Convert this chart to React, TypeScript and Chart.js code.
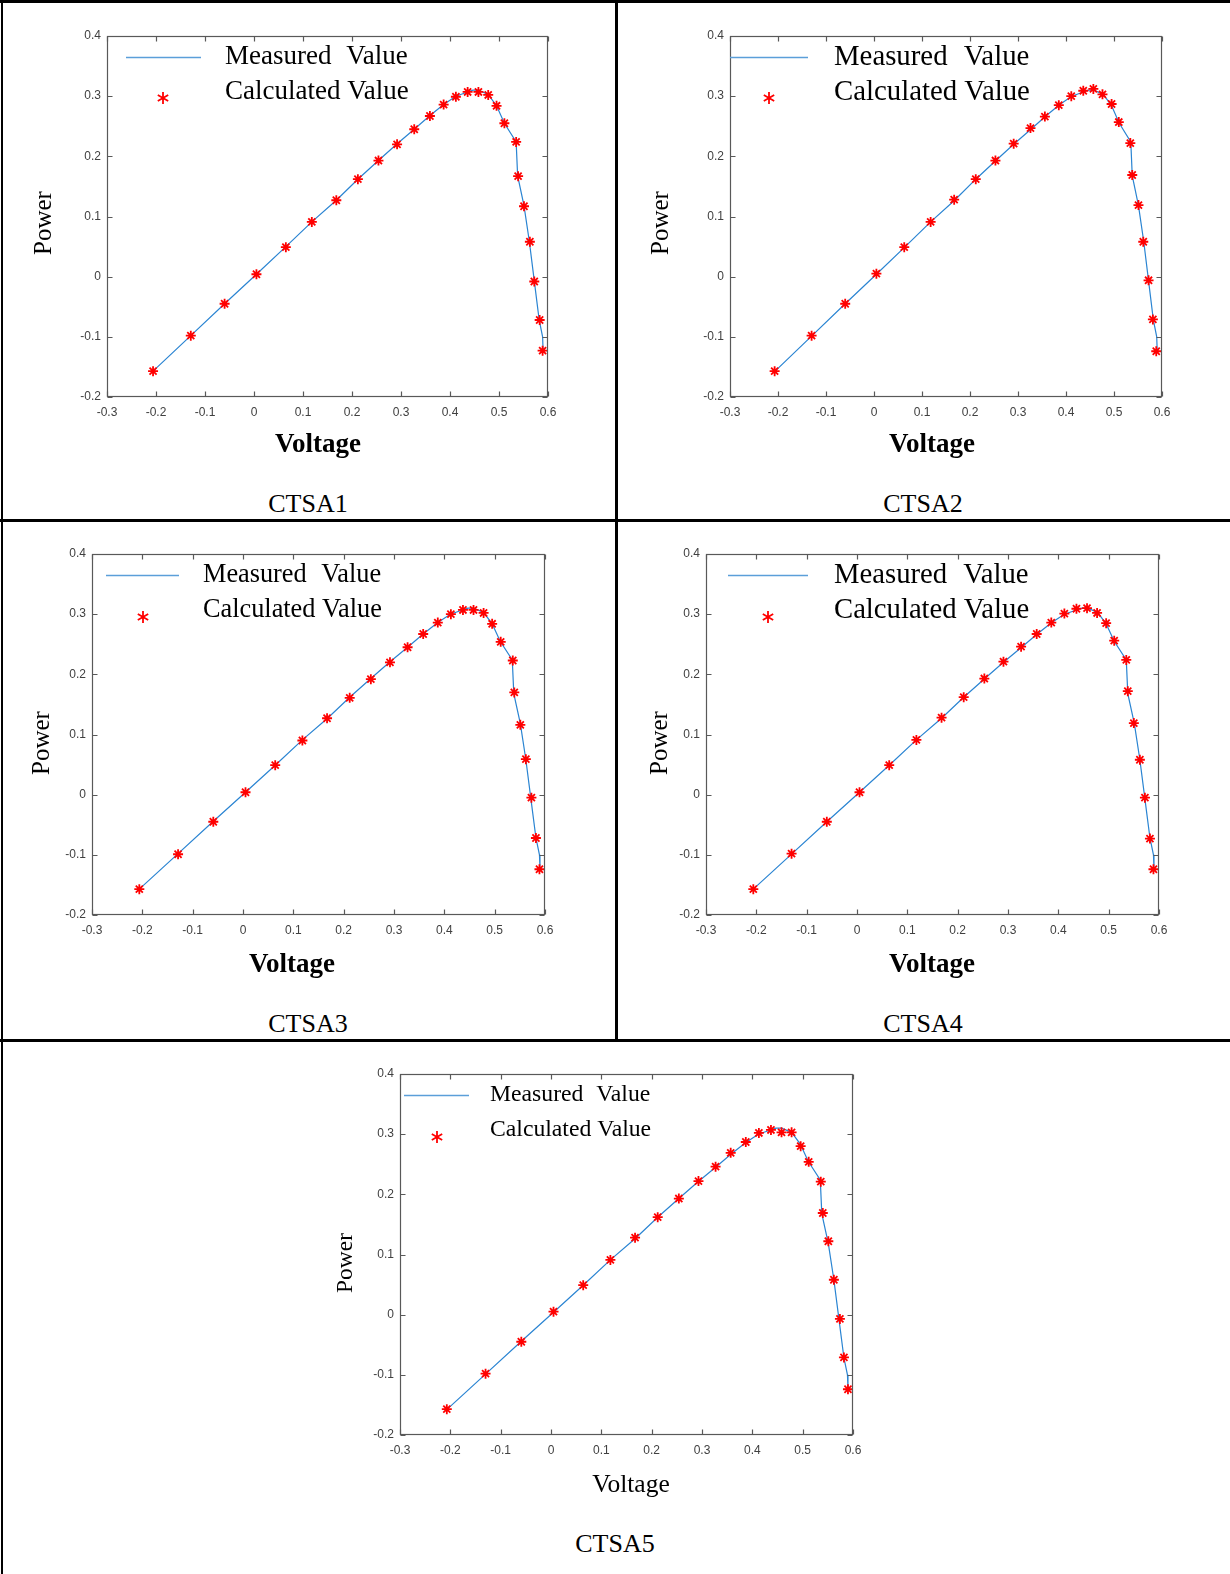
import React, { useEffect, useRef } from 'react';
import { Chart, registerables } from 'chart.js';

Chart.register(...registerables);

// ---------- data ----------
const xTicks = [-0.3, -0.2, -0.1, 0, 0.1, 0.2, 0.3, 0.4, 0.5, 0.6];
const xTickLabels = ['-0.3', '-0.2', '-0.1', '0', '0.1', '0.2', '0.3', '0.4', '0.5', '0.6'];
const yTicks = [-0.2, -0.1, 0, 0.1, 0.2, 0.3, 0.4];
const yTickLabels = ['-0.2', '-0.1', '0', '0.1', '0.2', '0.3', '0.4'];

const seriesLabels = ['Measured Value', 'Calculated Value'];
const captions = ['CTSA1', 'CTSA2', 'CTSA3', 'CTSA4', 'CTSA5'];
const xTitle = 'Voltage';
const yTitle = 'Power';

const measuredVoltage = [-0.206, -0.129, -0.060, 0.005, 0.064, 0.118, 0.168, 0.212, 0.254, 0.291, 0.327, 0.358, 0.387, 0.412, 0.436, 0.447, 0.458, 0.478, 0.495, 0.511, 0.535, 0.538, 0.551, 0.562, 0.572, 0.582, 0.589, 0.590];
const measuredPower = [-0.157, -0.098, -0.045, 0.004, 0.049, 0.091, 0.127, 0.162, 0.193, 0.220, 0.245, 0.267, 0.286, 0.300, 0.307, 0.310, 0.310, 0.303, 0.284, 0.255, 0.224, 0.168, 0.118, 0.058, -0.007, -0.072, -0.100, -0.123];

const calc1Voltage = [-0.206, -0.129, -0.060, 0.005, 0.065, 0.118, 0.168, 0.212, 0.254, 0.292, 0.327, 0.359, 0.387, 0.412, 0.436, 0.458, 0.478, 0.495, 0.511, 0.535, 0.539, 0.551, 0.563, 0.572, 0.583, 0.589];
const calc1Power = [-0.157, -0.098, -0.045, 0.004, 0.049, 0.091, 0.127, 0.162, 0.193, 0.220, 0.245, 0.267, 0.286, 0.299, 0.307, 0.307, 0.302, 0.284, 0.255, 0.224, 0.167, 0.117, 0.058, -0.008, -0.072, -0.123];

const calc2Voltage = [-0.207, -0.130, -0.060, 0.005, 0.063, 0.118, 0.167, 0.212, 0.253, 0.291, 0.326, 0.356, 0.385, 0.411, 0.436, 0.457, 0.476, 0.495, 0.510, 0.534, 0.538, 0.551, 0.561, 0.572, 0.581, 0.588];
const calc2Power = [-0.157, -0.098, -0.045, 0.005, 0.049, 0.091, 0.128, 0.162, 0.193, 0.221, 0.247, 0.266, 0.285, 0.300, 0.309, 0.312, 0.303, 0.287, 0.257, 0.222, 0.169, 0.119, 0.058, -0.006, -0.071, -0.124];

const calc3Voltage = [-0.206, -0.129, -0.059, 0.005, 0.064, 0.118, 0.167, 0.212, 0.254, 0.292, 0.327, 0.358, 0.387, 0.413, 0.437, 0.458, 0.478, 0.495, 0.512, 0.536, 0.539, 0.551, 0.562, 0.573, 0.582, 0.589];
const calc3Power = [-0.157, -0.099, -0.045, 0.004, 0.049, 0.090, 0.127, 0.161, 0.192, 0.220, 0.245, 0.267, 0.286, 0.300, 0.307, 0.307, 0.302, 0.284, 0.254, 0.223, 0.170, 0.116, 0.059, -0.005, -0.072, -0.124];

const calc4Voltage = [-0.206, -0.130, -0.060, 0.005, 0.064, 0.118, 0.168, 0.212, 0.253, 0.291, 0.326, 0.357, 0.386, 0.412, 0.436, 0.457, 0.477, 0.495, 0.511, 0.535, 0.538, 0.550, 0.562, 0.572, 0.582, 0.589];
const calc4Power = [-0.157, -0.098, -0.045, 0.004, 0.049, 0.091, 0.128, 0.162, 0.193, 0.221, 0.246, 0.267, 0.286, 0.301, 0.309, 0.310, 0.302, 0.285, 0.256, 0.224, 0.172, 0.119, 0.058, -0.005, -0.073, -0.124];

const calc5Voltage = [-0.207, -0.130, -0.059, 0.005, 0.064, 0.118, 0.167, 0.212, 0.254, 0.293, 0.327, 0.357, 0.387, 0.413, 0.437, 0.458, 0.478, 0.496, 0.512, 0.536, 0.540, 0.551, 0.562, 0.574, 0.582, 0.590];
const calc5Power = [-0.157, -0.098, -0.045, 0.005, 0.049, 0.091, 0.128, 0.162, 0.193, 0.222, 0.246, 0.269, 0.287, 0.302, 0.307, 0.303, 0.303, 0.280, 0.254, 0.221, 0.169, 0.122, 0.058, -0.007, -0.071, -0.124];

const calcVoltages = [calc1Voltage, calc2Voltage, calc3Voltage, calc4Voltage, calc5Voltage];
const calcPowers = [calc1Power, calc2Power, calc3Power, calc4Power, calc5Power];

// ---------- layout / style ----------
const LINE_COLOR = '#2a84d2';
const LEGEND_LINE_COLOR = '#5b9fd9';
const MARK_COLOR = '#ff0000';
const AXIS_COLOR = '#595959';
const TICK_TEXT = '#404040';
const SERIF = '"Liberation Serif", "Times New Roman", serif';
const SANS = '"Liberation Sans", Arial, sans-serif';

type PanelCfg = {
  l: number; r: number; t: number; b: number; yW: number; xH: number;
  xT: { cx: number; cy: number; size: number; bold: boolean };
  yT: { cx: number; cy: number; size: number };
  legend: { lineX0: number; lineX1: number; row1: number; row2: number; textX: number; starX: number; starY: number; size: number };
  cap: { cx: number; cy: number };
};

const panels: PanelCfg[] = [
  { l: 107, r: 548, t: 36, b: 397, yW: 78, xH: 63,
    xT: { cx: 318, cy: 445, size: 27, bold: true }, yT: { cx: 44, cy: 223, size: 25 },
    legend: { lineX0: 19, lineX1: 94, row1: 21, row2: 56, textX: 118, starX: 56, starY: 62, size: 27 },
    cap: { cx: 308, cy: 504 } },
  { l: 730, r: 1162, t: 36, b: 397, yW: 84, xH: 63,
    xT: { cx: 932, cy: 445, size: 27, bold: true }, yT: { cx: 661, cy: 223, size: 25 },
    legend: { lineX0: 0, lineX1: 78, row1: 21, row2: 56, textX: 104, starX: 39, starY: 62, size: 28.8 },
    cap: { cx: 923, cy: 504 } },
  { l: 92, r: 545, t: 554, b: 915, yW: 64, xH: 65,
    xT: { cx: 292, cy: 965, size: 27, bold: true }, yT: { cx: 42, cy: 743, size: 25 },
    legend: { lineX0: 14, lineX1: 87, row1: 21, row2: 56, textX: 111, starX: 51, starY: 63, size: 26.3 },
    cap: { cx: 308, cy: 1024 } },
  { l: 706, r: 1159, t: 554, b: 915, yW: 61, xH: 65,
    xT: { cx: 932, cy: 965, size: 27, bold: true }, yT: { cx: 660, cy: 743, size: 25 },
    legend: { lineX0: 22, lineX1: 102, row1: 21, row2: 56, textX: 128, starX: 62, starY: 63, size: 28.7 },
    cap: { cx: 923, cy: 1024 } },
  { l: 400, r: 853, t: 1074, b: 1435, yW: 69, xH: 64,
    xT: { cx: 631, cy: 1485, size: 25.5, bold: false }, yT: { cx: 346, cy: 1263, size: 23.5 },
    legend: { lineX0: 4, lineX1: 69, row1: 21, row2: 56, textX: 90, starX: 37, starY: 63, size: 23.7 },
    cap: { cx: 615, cy: 1544 } },
];

const PAD_T = 15;
const PAD_R = 22;

// ---------- plugins ----------
const axesBoxPlugin = {
  id: 'axesBox',
  afterDatasetsDraw(chart: any) {
    const { ctx, chartArea: a, scales } = chart;
    const xs = scales.x, ys = scales.y;
    ctx.save();
    ctx.strokeStyle = AXIS_COLOR;
    ctx.lineWidth = 1.2;
    const L = Math.round(a.left) + 0.5, R = Math.round(a.right) - 0.5;
    const T = Math.round(a.top) + 0.5, B = Math.round(a.bottom) - 0.5;
    ctx.strokeRect(L, T, R - L, B - T);
    const len = 5;
    ctx.beginPath();
    xTicks.forEach((v) => {
      const px = Math.round(xs.getPixelForValue(v)) + 0.5;
      ctx.moveTo(px, B); ctx.lineTo(px, B - len);
      ctx.moveTo(px, T); ctx.lineTo(px, T + len);
    });
    yTicks.forEach((v) => {
      const py = Math.round(ys.getPixelForValue(v)) + 0.5;
      ctx.moveTo(L, py); ctx.lineTo(L + len, py);
      ctx.moveTo(R, py); ctx.lineTo(R - len, py);
    });
    ctx.stroke();
    ctx.restore();
  },
};

function drawAsterisk(ctx: CanvasRenderingContext2D, x: number, y: number, r: number) {
  ctx.beginPath();
  for (let k = 0; k < 3; k++) {
    const ang = Math.PI / 2 + (k * Math.PI) / 3;
    const dx = Math.cos(ang) * r, dy = Math.sin(ang) * r;
    ctx.moveTo(x - dx, y - dy);
    ctx.lineTo(x + dx, y + dy);
  }
  ctx.stroke();
}

const legendPlugin = {
  id: 'matlabLegend',
  afterDraw(chart: any, _args: any, opts: any) {
    const { ctx, chartArea: a } = chart;
    const ds = chart.data.datasets;
    ctx.save();
    ctx.strokeStyle = LEGEND_LINE_COLOR;
    ctx.lineWidth = 1.3;
    ctx.beginPath();
    ctx.moveTo(a.left + opts.lineX0, a.top + opts.row1 + 0.5);
    ctx.lineTo(a.left + opts.lineX1, a.top + opts.row1 + 0.5);
    ctx.stroke();
    ctx.strokeStyle = MARK_COLOR;
    ctx.lineWidth = 1.8;
    drawAsterisk(ctx, a.left + opts.starX, a.top + opts.starY, 6);
    ctx.fillStyle = '#000';
    ctx.textBaseline = 'middle';
    ctx.textAlign = 'left';
    ctx.font = `${opts.size}px ${SERIF}`;
    const measuredLabel = ds.find((d: any) => d.kind === 'measured').label;
    const calcLabel = ds.find((d: any) => d.kind === 'calc').label;
    (ctx as any).wordSpacing = `${Math.round(opts.size * 0.3)}px`;
    ctx.fillText(measuredLabel, a.left + opts.textX, a.top + opts.row1);
    (ctx as any).wordSpacing = '0px';
    ctx.fillText(calcLabel, a.left + opts.textX, a.top + opts.row2);
    ctx.restore();
  },
};

// axis titles drawn at the positions of the reference (canvas coordinates)
const axisTitlePlugin = {
  id: 'axisTitles',
  afterDraw(chart: any, _args: any, o: any) {
    const { ctx } = chart;
    ctx.save();
    ctx.fillStyle = '#000';
    ctx.textAlign = 'center';
    ctx.textBaseline = 'middle';
    ctx.font = `${o.xBold ? 'bold ' : ''}${o.xSize}px ${SERIF}`;
    ctx.fillText(o.xText, o.xCx, o.xCy);
    ctx.translate(o.yCx, o.yCy);
    ctx.rotate(-Math.PI / 2);
    ctx.font = `${o.ySize}px ${SERIF}`;
    ctx.fillText(o.yText, 0, 0);
    ctx.restore();
  },
};

// ---------- components ----------
function Panel({ idx }: { idx: number }) {
  const ref = useRef<HTMLCanvasElement | null>(null);
  const p = panels[idx];
  const width = p.yW + (p.r - p.l) + PAD_R;
  const height = PAD_T + (p.b - p.t) + p.xH;
  const left = p.l - p.yW;
  const top = p.t - PAD_T;

  useEffect(() => {
    if (!ref.current) return;
    const measured = measuredVoltage.map((v, i) => ({ x: v, y: measuredPower[i] }));
    const calc = calcVoltages[idx].map((v, i) => ({ x: v, y: calcPowers[idx][i] }));
    const chart = new Chart(ref.current, {
      type: 'scatter',
      data: {
        datasets: [
          {
            kind: 'calc',
            label: seriesLabels[1],
            data: calc,
            showLine: false,
            pointStyle: 'star',
            pointRadius: 5,
            pointBorderWidth: 1.8,
            borderColor: MARK_COLOR,
            backgroundColor: MARK_COLOR,
            order: 0,
          } as any,
          {
            kind: 'measured',
            label: seriesLabels[0],
            data: measured,
            showLine: true,
            pointRadius: 0,
            borderColor: LINE_COLOR,
            borderWidth: 1.2,
            tension: 0,
            order: 1,
          } as any,
        ],
      },
      options: {
        animation: false,
        responsive: false,
        maintainAspectRatio: false,
        layout: { padding: { top: PAD_T, right: PAD_R, left: 0, bottom: 0 } },
        plugins: {
          legend: { display: false },
          tooltip: { enabled: false },
          matlabLegend: p.legend,
          axisTitles: {
            xText: xTitle, xCx: p.xT.cx - left, xCy: p.xT.cy - top, xSize: p.xT.size, xBold: p.xT.bold,
            yText: yTitle, yCx: p.yT.cx - left, yCy: p.yT.cy - top, ySize: p.yT.size,
          },
        } as any,
        scales: {
          x: {
            type: 'linear',
            min: xTicks[0],
            max: xTicks[xTicks.length - 1],
            afterBuildTicks: (s: any) => { s.ticks = xTicks.map((v) => ({ value: v })); },
            afterFit: (s: any) => { s.height = p.xH; },
            grid: { display: false, drawTicks: false },
            border: { display: false },
            ticks: {
              autoSkip: false,
              maxRotation: 0,
              padding: 8,
              color: TICK_TEXT,
              font: { family: SANS, size: 12 },
              callback: (_v: any, i: number) => xTickLabels[i],
            },
            title: { display: false },
          },
          y: {
            type: 'linear',
            min: yTicks[0],
            max: yTicks[yTicks.length - 1],
            afterBuildTicks: (s: any) => { s.ticks = yTicks.map((v) => ({ value: v })); },
            afterFit: (s: any) => { s.width = p.yW; },
            grid: { display: false, drawTicks: false },
            border: { display: false },
            ticks: {
              autoSkip: false,
              padding: 6,
              color: TICK_TEXT,
              font: { family: SANS, size: 12 },
              callback: (_v: any, i: number) => yTickLabels[i],
            },
            title: { display: false },
          },
        },
      },
      plugins: [axesBoxPlugin, legendPlugin, axisTitlePlugin],
    } as any);
    return () => chart.destroy();
  }, [idx]);

  return (
    <>
      <canvas
        ref={ref}
        width={width}
        height={height}
        style={{ position: 'absolute', left, top, width, height }}
      />
      <div
        style={{
          position: 'absolute',
          left: p.cap.cx - 150,
          width: 300,
          top: p.cap.cy - 15,
          height: 30,
          lineHeight: '30px',
          textAlign: 'center',
          fontFamily: SERIF,
          fontSize: 26,
          color: '#000',
        }}
      >
        {captions[idx]}
      </div>
    </>
  );
}

export default function App() {
  useEffect(() => {
    document.body.style.margin = '0';
  }, []);
  const line = (s: React.CSSProperties) => (
    <div style={{ position: 'absolute', background: '#000', ...s }} />
  );
  return (
    <div style={{ position: 'absolute', left: 0, top: 0, width: 1230, height: 1574, background: '#fff', overflow: 'hidden' }}>
      {line({ left: 0, top: 0, width: 1230, height: 3 })}
      {line({ left: 1, top: 0, width: 2, height: 1574 })}
      {line({ left: 615, top: 0, width: 3, height: 1041 })}
      {line({ left: 0, top: 519, width: 1230, height: 3 })}
      {line({ left: 0, top: 1039, width: 1230, height: 3 })}
      {panels.map((_, i) => (
        <Panel key={i} idx={i} />
      ))}
    </div>
  );
}
